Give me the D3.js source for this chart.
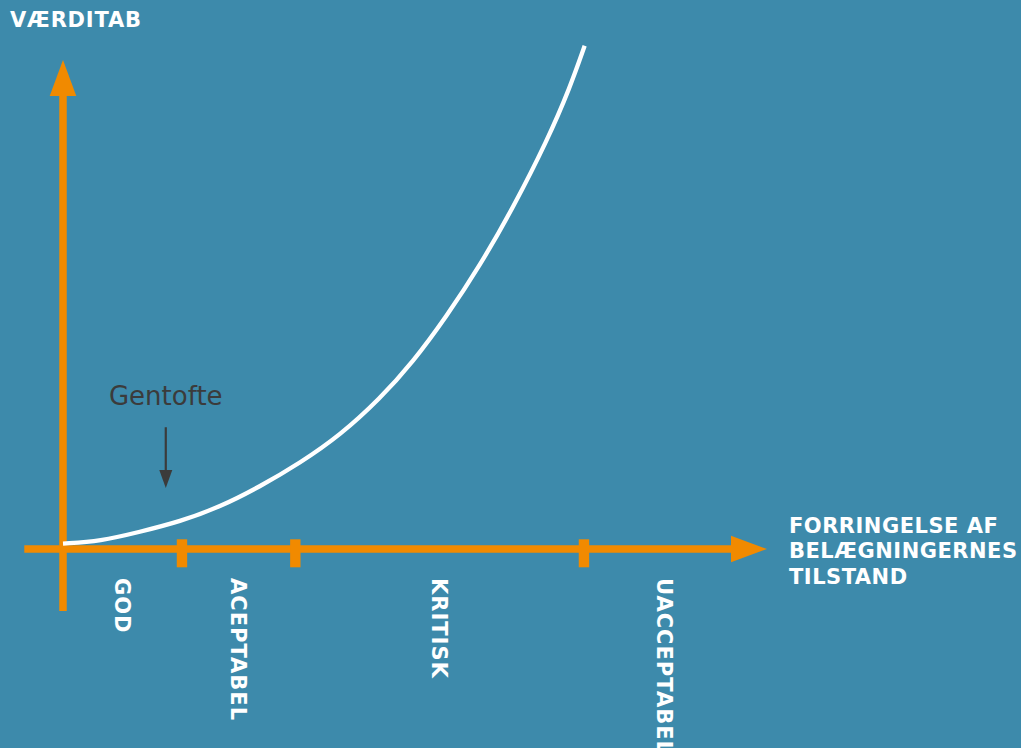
<!DOCTYPE html>
<html>
<head>
<meta charset="utf-8">
<script src="https://cdn.jsdelivr.net/npm/d3@7"></script>
<style>
  body { margin: 0; background: #3d8aab; }
  svg { display: block; }
  text { font-family: "DejaVu Sans", Verdana, sans-serif; }
</style>
</head>
<body>
<div id="chart"></div>
<script>
// data: condition index (0-100) vs value loss (0-100)
const curveX = [0, 5.3, 10.9, 16.6, 22.3, 27.9, 33.7, 39.4, 45.0, 49.7, 54.5, 59.2, 63.9, 68.8, 72.0, 74.1];
const curveY = [1.1, 1.6, 3.5, 5.6, 8.6, 12.7, 17.6, 23.3, 30.7, 38.2, 47.6, 57.9, 69.7, 83.6, 94.3, 102.9];

// condition bands (boundaries on the x axis)
const bandNames = ["GOD", "ACEPTABEL", "KRITISK", "UACCEPTABEL"];
const bandEdges = [0, 16.9, 33.0, 74.0, 97.0];
const tickValues = [16.9, 33.0, 74.0];

const yTitle = "VÆRDITAB";
const xTitle = ["FORRINGELSE AF", "BELÆGNINGERNES", "TILSTAND"];
const note = { label: "Gentofte", x: 14.6, textY: 29.4, from: 24.9, to: 12.5 };

// constants
const width = 1021;
const height = 748;
const orange = "#f18a00";

// SCALES
const xScale = d3.scaleLinear()
  .domain([0, 100])
  .range([63, 767]);

const yScale = d3.scaleLinear()
  .domain([0, 100])
  .range([549, 60]);

const svg = d3.select("#chart")
  .append("svg")
  .attr("width", width)
  .attr("height", height);

svg.append("rect")
  .attr("width", width)
  .attr("height", height)
  .attr("fill", "#3d8aab");

// axes (drawn as arrows)
const x0 = xScale(0), y0 = yScale(0);
const head = 36, half = 13.3;

// y axis
svg.append("line")
  .attr("x1", x0).attr("x2", x0)
  .attr("y1", yScale(-12.7)).attr("y2", yScale(100) + head - 1)
  .attr("stroke", orange).attr("stroke-width", 7.5);
svg.append("path")
  .attr("d", `M${x0},${yScale(100)} L${x0 + half},${yScale(100) + head} L${x0 - half},${yScale(100) + head} Z`)
  .attr("fill", orange);

// x axis
svg.append("line")
  .attr("x1", xScale(-5.5)).attr("x2", xScale(100) - head + 1)
  .attr("y1", y0).attr("y2", y0)
  .attr("stroke", orange).attr("stroke-width", 7.5);
svg.append("path")
  .attr("d", `M${xScale(100)},${y0} L${xScale(100) - head},${y0 - half} L${xScale(100) - head},${y0 + half} Z`)
  .attr("fill", orange);

// ticks
svg.selectAll("rect.tick")
  .data(tickValues)
  .join("rect")
  .attr("class", "tick")
  .attr("x", d => xScale(d) - 5.2)
  .attr("y", y0 - 9.7)
  .attr("width", 10.4)
  .attr("height", 28)
  .attr("fill", orange);

// curve
const line = d3.line()
  .x(d => xScale(d[0]))
  .y(d => yScale(d[1]))
  .curve(d3.curveBasis);

svg.append("path")
  .datum(d3.zip(curveX, curveY))
  .attr("d", line)
  .attr("fill", "none")
  .attr("stroke", "#fff")
  .attr("stroke-width", 4.3);

// band labels, rotated
svg.selectAll("text.band")
  .data(bandNames)
  .join("text")
  .attr("class", "band")
  .attr("transform", (d, i) => `translate(${(xScale(bandEdges[i]) + xScale(bandEdges[i + 1])) / 2}, ${y0 + 29}) rotate(90)`)
  .attr("dy", "0.36em")
  .attr("fill", "#fff")
  .attr("font-size", 21)
  .attr("font-weight", "bold")
  .attr("letter-spacing", 1)
  .text(d => d);

// axis titles
svg.append("text")
  .attr("x", 10).attr("y", 27)
  .attr("fill", "#fff")
  .attr("font-size", 21)
  .attr("font-weight", "bold")
  .attr("letter-spacing", 0.8)
  .text(yTitle);

svg.append("text")
  .attr("x", 789)
  .attr("fill", "#fff")
  .attr("font-size", 21)
  .attr("font-weight", "bold")
  .attr("letter-spacing", 0.5)
  .selectAll("tspan")
  .data(xTitle)
  .join("tspan")
  .attr("x", 789)
  .attr("y", (d, i) => 532.5 + i * 25.5)
  .text(d => d);

// Gentofte annotation
svg.append("text")
  .attr("x", xScale(note.x))
  .attr("y", yScale(note.textY))
  .attr("text-anchor", "middle")
  .attr("fill", "#3b3b3b")
  .attr("font-size", 26)
  .text(note.label);

svg.append("line")
  .attr("x1", xScale(note.x)).attr("x2", xScale(note.x))
  .attr("y1", yScale(note.from)).attr("y2", yScale(note.to) - 16)
  .attr("stroke", "#3b3b3b").attr("stroke-width", 2.2);

svg.append("path")
  .attr("d", `M${xScale(note.x)},${yScale(note.to)} l-6.5,-18 l13,0 Z`)
  .attr("fill", "#3b3b3b");
</script>
</body>
</html>
